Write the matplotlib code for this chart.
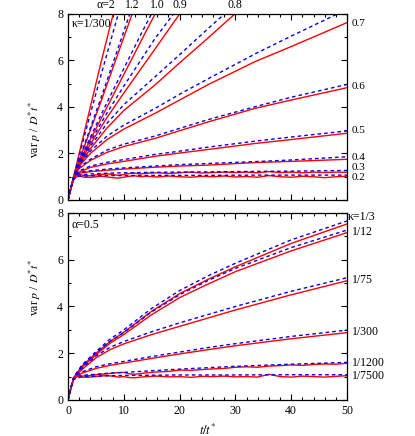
import matplotlib
matplotlib.use("Agg")
import matplotlib.pyplot as plt
from matplotlib.ticker import MultipleLocator

plt.rcParams['font.family'] = ['Liberation Serif', 'DejaVu Serif']
plt.rcParams['mathtext.fontset'] = 'stix'
plt.rcParams['font.size'] = 8

RED = '#ff0000'
BLUE = '#0000ff'

###############################################################################
# Data
###############################################################################

# top panel, kappa = 1/300, varying alpha
# steep curves: each has its own time grid (they leave the frame early)
t_a20 = [0, 0.5, 1, 2, 3, 4, 6, 8.1, 9]
sim_a20 = [0, 0.5, 1.0, 2.0, 3.0, 4.0, 6.0, 8.0, 8.9]
tb_a20 = [0, 0.5, 1, 2, 3, 4, 6, 9, 10]
th_a20 = [0, 0.5, 0.98, 1.9, 2.8, 3.7, 5.45, 8.0, 8.9]

t_a12 = [0, 0.5, 1, 2, 4, 6, 8, 10, 11.5, 12.5]
sim_a12 = [0, 0.5, 1.0, 1.7, 3.0, 4.3, 5.65, 7.0, 8.0, 8.65]
th_a12 = [0, 0.5, 1.0, 1.75, 3.1, 4.45, 5.85, 7.25, 8.3, 8.95]

t_a10 = [0, 0.5, 1, 2, 4, 7, 10, 13, 15.6, 17]
sim_a10 = [0, 0.5, 0.98, 1.6, 2.6, 4.0, 5.4, 6.8, 8.0, 8.65]
th_a10 = [0, 0.5, 1.0, 1.65, 2.7, 4.2, 5.65, 7.1, 8.3, 8.95]

t_a09 = [0, 0.5, 1, 2, 4, 7, 10, 15.6, 20, 21.5]
sim_a09 = [0, 0.5, 0.97, 1.55, 2.4, 3.55, 4.6, 6.5, 8.0, 8.5]
th_a09 = [0, 0.5, 0.99, 1.6, 2.5, 3.75, 4.9, 6.95, 8.35, 8.85]

t_a08 = [0, 0.5, 1, 2, 4, 7, 10, 15.6, 20, 25, 29.9, 32]
sim_a08 = [0, 0.5, 0.96, 1.5, 2.2, 3.1, 3.85, 4.95, 5.9, 6.95, 8.0, 8.45]
th_a08 = [0, 0.5, 0.98, 1.55, 2.3, 3.3, 4.1, 5.3, 6.25, 7.35, 8.4, 8.85]

# slower curves on a shared grid
t_top = [0, 0.5, 1, 2, 4, 7, 10, 15.6, 20, 25, 33.5, 40, 50]
sim_a07 = [0, 0.5, 0.95, 1.45, 2.0, 2.6, 3.05, 3.73, 4.3, 4.95, 5.95, 6.6, 7.63]
th_a07 = [0, 0.5, 0.97, 1.5, 2.1, 2.75, 3.22, 3.94, 4.55, 5.2, 6.28, 7.05, 8.2]
sim_a06 = [0, 0.5, 0.93, 1.35, 1.7, 2.05, 2.3, 2.65, 2.98, 3.35, 3.94, 4.3, 4.83]
th_a06 = [0, 0.5, 0.95, 1.4, 1.75, 2.15, 2.4, 2.75, 3.08, 3.45, 4.01, 4.42, 4.97]
sim_a05 = [0, 0.5, 0.92, 1.2, 1.4, 1.55, 1.66, 1.88, 2.02, 2.17, 2.43, 2.6, 2.87]
th_a05 = [0, 0.5, 0.94, 1.25, 1.46, 1.62, 1.74, 1.96, 2.1, 2.27, 2.53, 2.71, 2.97]
sim_a04 = [0, 0.5, 0.9, 1.15, 1.22, 1.28, 1.33, 1.41, 1.46, 1.5, 1.61, 1.66, 1.75]
th_a04 = [0, 0.5, 0.92, 1.18, 1.26, 1.33, 1.38, 1.46, 1.52, 1.57, 1.65, 1.72, 1.86]
th_a03 = [0, 0.5, 0.9, 1.08, 1.12, 1.15, 1.17, 1.19, 1.2, 1.21, 1.23, 1.24, 1.27]
th_a02 = [0, 0.5, 0.9, 1.02, 1.04, 1.05, 1.05, 1.06, 1.06, 1.06, 1.07, 1.07, 1.07]

# noisy simulation curves on a denser grid
t_w = [0, 0.5, 1, 1.5, 2, 2.5, 3, 4, 5, 6, 7, 8, 9, 10, 11, 12, 13, 14, 16, 18,
       20, 22, 24, 26, 28, 30, 32, 34, 36, 38, 40, 42, 44, 46, 48, 50]
sim_a03 = [0, 0.5, 0.88, 1.02, 1.08, 1.07, 1.05, 1.04, 1.08, 1.1, 1.12, 1.1,
           1.06, 1.1, 1.14, 1.15, 1.12, 1.15, 1.17, 1.14, 1.17, 1.2, 1.16, 1.18,
           1.2, 1.18, 1.2, 1.17, 1.22, 1.18, 1.2, 1.17, 1.2, 1.18, 1.2, 1.19]
sim_a02 = [0, 0.5, 0.88, 1.0, 1.03, 1.0, 0.98, 0.97, 1.0, 1.02, 0.99, 0.96,
           0.94, 0.98, 1.02, 1.04, 1.0, 1.02, 0.99, 1.03, 1.0, 0.98, 1.02, 1.0,
           1.03, 0.99, 1.01, 0.98, 1.05, 1.0, 0.98, 1.02, 1.0, 0.96, 1.0, 1.02]

# bottom panel, alpha = 0.5, varying kappa
t_bot = [0, 0.5, 1, 2.5, 5, 7.5, 10, 15, 20, 25, 30, 40, 50]
sim_k3 = [0, 0.5, 0.95, 1.45, 2.0, 2.5, 2.9, 3.8, 4.55, 5.15, 5.7, 6.7, 7.53]
th_k3 = [0, 0.5, 0.97, 1.5, 2.07, 2.6, 3.0, 3.92, 4.68, 5.3, 5.85, 6.85, 7.66]
sim_k12 = [0, 0.5, 0.93, 1.4, 1.93, 2.42, 2.8, 3.65, 4.38, 4.95, 5.49, 6.38, 7.16]
th_k12 = [0, 0.5, 0.95, 1.45, 2.0, 2.5, 2.88, 3.77, 4.5, 5.1, 5.63, 6.52, 7.27]
sim_k75 = [0, 0.5, 0.92, 1.3, 1.8, 2.15, 2.4, 2.8, 3.15, 3.5, 3.85, 4.5, 5.1]
th_k75 = [0, 0.5, 0.95, 1.35, 1.88, 2.25, 2.5, 2.92, 3.3, 3.65, 4.0, 4.65, 5.23]
sim_k300 = [0, 0.5, 0.9, 1.15, 1.35, 1.48, 1.58, 1.78, 1.97, 2.15, 2.32, 2.62, 2.88]
th_k300 = [0, 0.5, 0.92, 1.2, 1.42, 1.55, 1.65, 1.86, 2.05, 2.24, 2.41, 2.72, 2.99]
th_k1200 = [0, 0.5, 0.9, 1.05, 1.1, 1.15, 1.18, 1.25, 1.32, 1.38, 1.44, 1.53, 1.61]
th_k7500 = [0, 0.5, 0.88, 1.0, 1.02, 1.04, 1.05, 1.06, 1.07, 1.07, 1.07, 1.08, 1.08]
sim_k1200 = [0, 0.5, 0.88, 1.0, 1.04, 1.02, 1.03, 1.05, 1.08, 1.1, 1.12, 1.15,
             1.17, 1.18, 1.12, 1.1, 1.13, 1.16, 1.2, 1.22, 1.28, 1.27, 1.3, 1.33,
             1.35, 1.4, 1.42, 1.4, 1.45, 1.47, 1.5, 1.48, 1.52, 1.54, 1.53, 1.57]
sim_k7500 = [0, 0.5, 0.88, 1.0, 1.02, 0.98, 0.97, 0.98, 1.0, 1.03, 1.04, 1.02,
             0.98, 1.0, 0.96, 0.95, 0.98, 1.0, 1.02, 0.99, 1.0, 0.97, 1.01, 1.0,
             1.02, 0.99, 1.0, 0.98, 1.1, 1.0, 0.98, 1.02, 1.0, 0.98, 1.01, 1.04]

alpha_top = ["\u03b1=2", "1.2", "1.0", "0.9", "0.8"]
alpha_right = ["0.7", "0.6", "0.5", "0.4", "0.3", "0.2"]
kappa_right = ["\u03ba=1/3", "1/12", "1/75", "1/300", "1/1200", "1/7500"]


###############################################################################
# Plot
###############################################################################

def pair(ax, ts, sim, tt, th):
    ax.plot(ts, sim, color=RED, lw=1.0, solid_joinstyle='round')
    ax.plot(tt, th, color=BLUE, lw=1.0, dashes=(2.6, 2.2))


def style(ax):
    ax.set_xlim(0, 50)
    ax.set_ylim(0, 8)
    ax.xaxis.set_major_locator(MultipleLocator(10))
    ax.xaxis.set_minor_locator(MultipleLocator(2))
    ax.yaxis.set_major_locator(MultipleLocator(2))
    ax.yaxis.set_minor_locator(MultipleLocator(1))
    ax.tick_params(which='both', direction='in', top=True, right=True,
                   labelsize=8.5, width=0.8)
    ax.tick_params(which='major', length=4)
    ax.tick_params(which='minor', length=2)
    for s in ax.spines.values():
        s.set_linewidth(0.9)


def right_labels(ax, labels, ys, dx, fs=8.5):
    for lab, y, d in zip(labels, ys, dx):
        ax.annotate(lab, xy=(1, y), xycoords=('axes fraction', 'data'),
                    xytext=(d, 0), textcoords='offset points',
                    va='center', ha='left', fontsize=fs, annotation_clip=False)


fig = plt.figure(figsize=(4.15, 4.36), dpi=100)
ax1 = fig.add_axes([0.1639, 0.5413, 0.6723, 0.4266])
ax2 = fig.add_axes([0.1639, 0.0826, 0.6723, 0.4289])

# top panel
pair(ax1, t_a20, sim_a20, tb_a20, th_a20)
pair(ax1, t_a12, sim_a12, t_a12, th_a12)
pair(ax1, t_a10, sim_a10, t_a10, th_a10)
pair(ax1, t_a09, sim_a09, t_a09, th_a09)
pair(ax1, t_a08, sim_a08, t_a08, th_a08)
pair(ax1, t_top, sim_a07, t_top, th_a07)
pair(ax1, t_top, sim_a06, t_top, th_a06)
pair(ax1, t_top, sim_a05, t_top, th_a05)
pair(ax1, t_top, sim_a04, t_top, th_a04)
pair(ax1, t_w, sim_a03, t_top, th_a03)
pair(ax1, t_w, sim_a02, t_top, th_a02)
style(ax1)
ax1.tick_params(labelbottom=False)

# labels above the frame, at the exit points of the simulation curves
top_x = [t_a20[-2] + 0.4, t_a12[-2], t_a10[-2] + 0.4, t_a09[-2], t_a08[-2]]
for i, (lab, x) in enumerate(zip(alpha_top, top_x)):
    ax1.annotate(lab, xy=(x, 1), xycoords=('data', 'axes fraction'),
                 xytext=(0, 2.5), textcoords='offset points',
                 ha='right' if i == 0 else 'center', va='bottom',
                 fontsize=8.5, annotation_clip=False)
right_labels(ax1, alpha_right, [7.6, 4.86, 2.97, 1.83, 1.38, 0.95],
             [3.5] * 6, fs=8)
ax1.text(0.012, 0.945, "\u03ba=1/300", transform=ax1.transAxes,
         ha='left', va='center', fontsize=8.5)
ax1.set_ylabel(r"var $p$ / $D^{*}t^{*}$", fontsize=8.5)
ax1.yaxis.set_label_coords(-0.09, 0.38)

# bottom panel
pair(ax2, t_bot, sim_k3, t_bot, th_k3)
pair(ax2, t_bot, sim_k12, t_bot, th_k12)
pair(ax2, t_bot, sim_k75, t_bot, th_k75)
pair(ax2, t_bot, sim_k300, t_bot, th_k300)
pair(ax2, t_w, sim_k1200, t_bot, th_k1200)
pair(ax2, t_w, sim_k7500, t_bot, th_k7500)
style(ax2)
right_labels(ax2, kappa_right, [7.83, 7.19, 5.13, 2.91, 1.58, 1.03],
             [0.5, 3.5, 3.5, 3.5, 3.5, 3.5])
ax2.text(0.012, 0.935, "\u03b1=0.5", transform=ax2.transAxes,
         ha='left', va='center', fontsize=8.5)
ax2.set_ylabel(r"var $p$ / $D^{*}t^{*}$", fontsize=8.5)
ax2.yaxis.set_label_coords(-0.09, 0.6)
ax2.set_xlabel(r"$t/t^{*}$", fontsize=9)
ax2.xaxis.set_label_coords(0.5, -0.12)

fig.savefig("out.png", dpi=100)
